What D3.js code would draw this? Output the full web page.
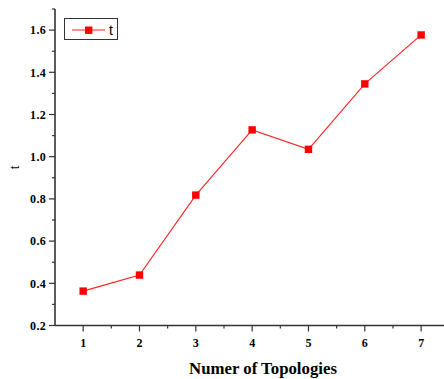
<!DOCTYPE html>
<html><head><meta charset="utf-8">
<script src="https://cdn.jsdelivr.net/npm/d3@7"></script>
<style>body{margin:0;background:#fff}svg{display:block}</style>
</head><body>
<script>
const categories = [1, 2, 3, 4, 5, 6, 7];
const values = [0.363, 0.439, 0.818, 1.127, 1.035, 1.345, 1.577];
const yTicks = [0.2, 0.4, 0.6, 0.8, 1.0, 1.2, 1.4, 1.6];
const yMinor = [0.3, 0.5, 0.7, 0.9, 1.1, 1.3, 1.5, 1.7];
const xMinor = [1.5, 2.5, 3.5, 4.5, 5.5, 6.5, 7.5];
const seriesName = "t";

const W = 444, H = 379;
const svg = d3.select("body").append("svg").attr("width", W).attr("height", H);
const x = d3.scaleLinear().domain([0.5, 7.5]).range([55, 449.3]);
const y = d3.scaleLinear().domain([0.2, 1.7]).range([325.5, 9]);
const axisColor = "#333";
const tf = "'Liberation Serif','Times New Roman',serif";

// axes lines
svg.append("line").attr("x1", 55).attr("x2", 55).attr("y1", y(1.7)).attr("y2", 325.5)
  .attr("stroke", axisColor).attr("stroke-width", 1.6);
svg.append("line").attr("x1", 55).attr("x2", W).attr("y1", 325.5).attr("y2", 325.5)
  .attr("stroke", axisColor).attr("stroke-width", 1.6);

// y ticks
yTicks.forEach(v => {
  svg.append("line").attr("x1", 49).attr("x2", 55).attr("y1", y(v)).attr("y2", y(v))
    .attr("stroke", axisColor).attr("stroke-width", 1.2);
  svg.append("text").attr("x", 46).attr("y", y(v)).attr("dy", "0.35em")
    .attr("text-anchor", "end").attr("font-family", tf).attr("font-weight", "bold")
    .attr("font-size", 12).attr("letter-spacing", 0.3).text(v.toFixed(1));
});
yMinor.forEach(v => {
  svg.append("line").attr("x1", 52).attr("x2", 55).attr("y1", y(v)).attr("y2", y(v))
    .attr("stroke", axisColor).attr("stroke-width", 1.2);
});
// x ticks
categories.forEach(v => {
  svg.append("line").attr("x1", x(v)).attr("x2", x(v)).attr("y1", 325.5).attr("y2", 331.5)
    .attr("stroke", axisColor).attr("stroke-width", 1.2);
  svg.append("text").attr("x", x(v)).attr("y", 342.5).attr("dy", "0.35em")
    .attr("text-anchor", "middle").attr("font-family", tf).attr("font-weight", "bold")
    .attr("font-size", 12).text(v);
});
xMinor.forEach(v => {
  svg.append("line").attr("x1", x(v)).attr("x2", x(v)).attr("y1", 325.5).attr("y2", 328.5)
    .attr("stroke", axisColor).attr("stroke-width", 1.2);
});

// axis titles
svg.append("text").attr("x", 263).attr("y", 368).attr("dy", "0.35em")
  .attr("text-anchor", "middle").attr("font-family", tf).attr("font-weight", "bold")
  .attr("font-size", 16.8).text("Numer of Topologies");
svg.append("text").attr("transform", `translate(14,${y(0.95)}) rotate(-90)`)
  .attr("dy", "0.35em").attr("text-anchor", "middle").attr("font-family", tf)
  .attr("font-size", 14).text(seriesName);

// line
const data = categories.map((c, i) => ({c, v: values[i]}));
svg.append("path").datum(data)
  .attr("d", d3.line().x(d => x(d.c)).y(d => y(d.v)))
  .attr("fill", "none").attr("stroke", "#ff2020").attr("stroke-width", 1.1);
svg.selectAll("rect.pt").data(data).enter().append("rect").attr("class", "pt")
  .attr("x", d => x(d.c) - 3.7).attr("y", d => y(d.v) - 3.7)
  .attr("width", 7.4).attr("height", 7.4).attr("fill", "#ff0000");

// legend
svg.append("rect").attr("x", 64.5).attr("y", 18.5).attr("width", 53).attr("height", 21)
  .attr("fill", "#fff").attr("stroke", axisColor).attr("stroke-width", 1);
svg.append("line").attr("x1", 72).attr("x2", 105).attr("y1", 30).attr("y2", 30)
  .attr("stroke", "#ff2020").attr("stroke-width", 1.1);
svg.append("rect").attr("x", 85).attr("y", 26.5).attr("width", 7.4).attr("height", 7.4).attr("fill", "#ff0000");
svg.append("text").attr("x", 109).attr("y", 30).attr("dy", "0.35em")
  .attr("font-family", "'Liberation Sans',Arial,sans-serif").attr("font-size", 14).text(seriesName);
</script>
</body></html>
